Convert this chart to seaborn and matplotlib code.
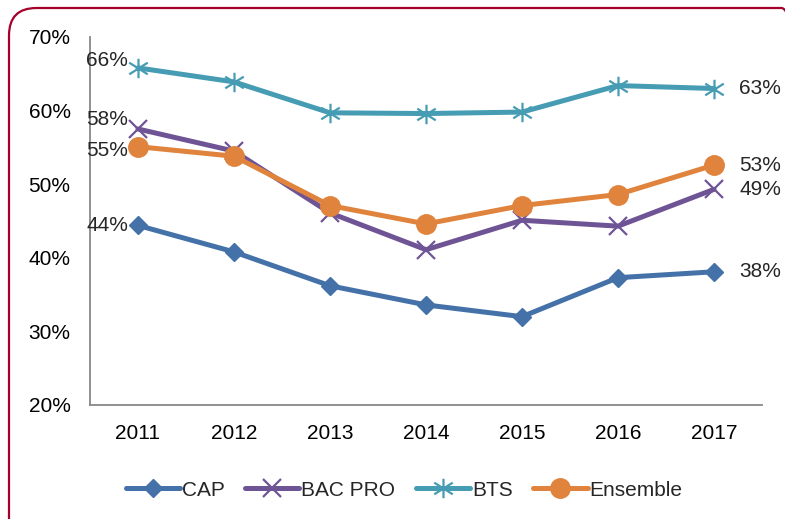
import matplotlib
matplotlib.use("Agg")
import matplotlib.pyplot as plt
from matplotlib.path import Path
from matplotlib.patches import FancyBboxPatch
import seaborn as sns
import pandas as pd

years = ["2011", "2012", "2013", "2014", "2015", "2016", "2017"]
cap = [44.4, 40.8, 36.2, 33.6, 32.0, 37.3, 38.1]
bac_pro = [57.5, 54.5, 46.1, 41.1, 45.1, 44.3, 49.3]
bts = [65.8, 63.9, 59.7, 59.6, 59.8, 63.4, 63.0]
ensemble = [55.1, 53.8, 47.1, 44.6, 47.1, 48.6, 52.6]
series_names = ["CAP", "BAC PRO", "BTS", "Ensemble"]
yticks = [20, 30, 40, 50, 60, 70]

sns.set_theme(style="white")
plt.rcParams["font.family"] = ["Liberation Sans", "DejaVu Sans"]

star = Path([(0, -1), (0, 1), (-0.95, -0.6), (0.95, 0.6), (-0.95, 0.6), (0.95, -0.6)],
            [Path.MOVETO, Path.LINETO, Path.MOVETO, Path.LINETO, Path.MOVETO, Path.LINETO])

styles = {
    "CAP": dict(color="#4371A8", marker="D", markersize=9.5, mew=1, lw=3.6),
    "BAC PRO": dict(color="#6F5495", marker="x", markersize=13, mew=1.6, lw=3.6),
    "BTS": dict(color="#459CB3", marker=star, markersize=14, mew=1.6, lw=3.6),
    "Ensemble": dict(color="#E0833C", marker="o", markersize=14, mew=1, lw=3.6),
}
values = {"CAP": cap, "BAC PRO": bac_pro, "BTS": bts, "Ensemble": ensemble}

fig = plt.figure(figsize=(7.85, 5.19), dpi=100)
ax = fig.add_axes([90 / 785, 1 - 405 / 519, 672 / 785, 368 / 519])

for name in series_names:
    st = styles[name]
    df = pd.DataFrame({"year": list(range(len(years))), "value": values[name]})
    sns.lineplot(data=df, x="year", y="value", ax=ax, color=st["color"], lw=st["lw"],
                 marker=st["marker"], markersize=st["markersize"],
                 markeredgecolor=st["color"], markerfacecolor=st["color"],
                 markeredgewidth=st["mew"], label=name, legend=False)

ax.set_xlim(-0.5, 6.5)
ax.set_ylim(20, 70)
ax.set_xlabel("")
ax.set_ylabel("")
ax.set_yticks(yticks)
ax.set_yticklabels([f"{v}%" for v in yticks], fontsize=15)
ax.set_xticks(range(len(years)))
ax.set_xticklabels(years, fontsize=15)
ax.set_xticks([i - 0.5 for i in range(len(years) + 1)], minor=True)
ax.tick_params(axis="x", which="major", length=0, pad=14, colors="black")
ax.tick_params(axis="x", which="minor", length=7, width=1.2, color="#888888", direction="out")
ax.tick_params(axis="y", length=7, width=1.2, color="#888888", direction="out", pad=7, labelcolor="black")
for s in ["top", "right"]:
    ax.spines[s].set_visible(False)
for s in ["left", "bottom"]:
    ax.spines[s].set_color("#888888")
    ax.spines[s].set_linewidth(1.3)

# data labels
left_offsets = {"BTS": 5, "BAC PRO": 7, "Ensemble": -3, "CAP": 0}
for name in series_names:
    v = values[name]
    ax.annotate(f"{round(v[0]):.0f}%", (0, v[0]), xytext=(-7, left_offsets[name]),
                textcoords="offset points", ha="right", va="center", fontsize=15)
    ax.annotate(f"{round(v[-1]):.0f}%", (6, v[-1]), xytext=(18, 0),
                textcoords="offset points", ha="left", va="center", fontsize=15)

handles, labels = ax.get_legend_handles_labels()
leg = fig.legend(handles, labels, loc="center left", bbox_to_anchor=(107 / 785, 1 - 490 / 519),
                 ncol=4, frameon=False, handlelength=2.6, handletextpad=0.08,
                 columnspacing=1.0, prop={"size": 15})

border = FancyBboxPatch((9 / 785, -30 / 519), 800 / 785, (519 - 8 + 30) / 519,
                        boxstyle="round,pad=0,rounding_size=0.035",
                        transform=fig.transFigure, fill=False, edgecolor="#A5002A",
                        linewidth=1.6, mutation_aspect=785 / 519, clip_on=False)
fig.patches.append(border)

fig.savefig("out.png", dpi=100)
